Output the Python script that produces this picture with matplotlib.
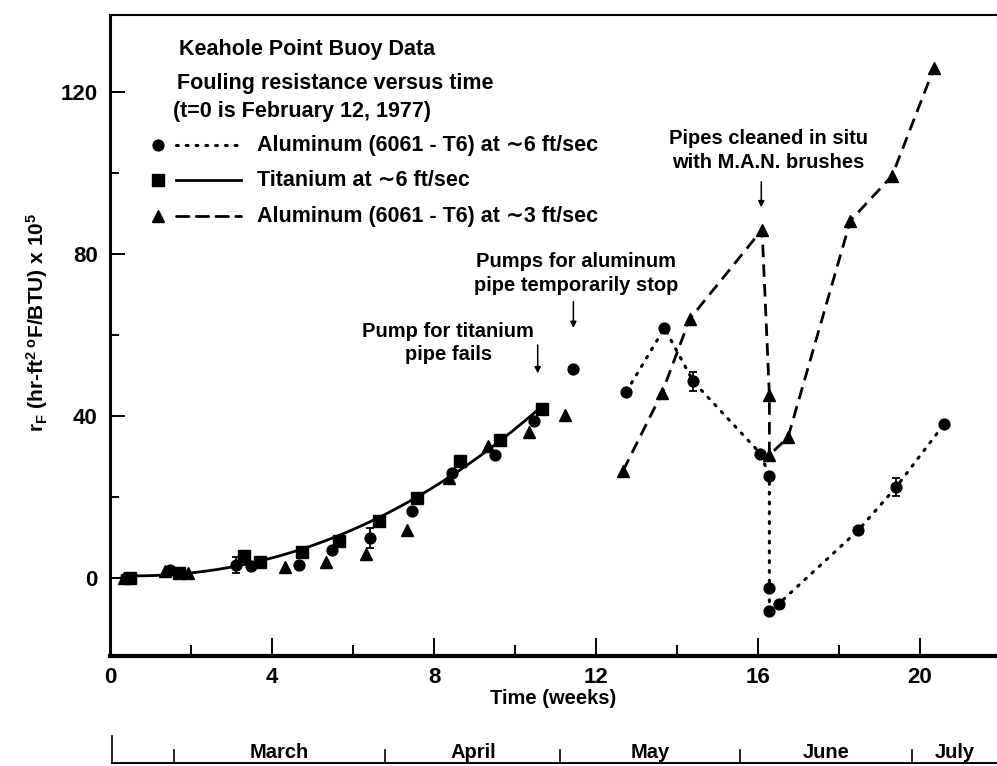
import numpy as np
import matplotlib.pyplot as plt
from matplotlib.lines import Line2D

plt.rcParams['font.family'] = ['Liberation Sans', 'DejaVu Sans']
plt.rcParams['font.weight'] = 'bold'
plt.rcParams['axes.labelweight'] = 'bold'
plt.rcParams['mathtext.fontset'] = 'custom'
plt.rcParams['mathtext.rm'] = 'Liberation Sans:bold'
plt.rcParams['mathtext.it'] = 'Liberation Sans:bold'

# ---- data (weeks since Feb 12, 1977; r_F x 1e5) ----
# titanium, ~6 ft/sec
ti_t = [0.5, 1.7, 3.3, 3.7, 4.73, 5.65, 6.64, 7.58, 8.65, 9.64, 10.67]
ti_r = [0.0, 1.1, 5.3, 4.0, 6.3, 9.2, 14.1, 19.8, 28.8, 34.0, 41.7]

# aluminum, ~6 ft/sec (points before week 12 are not joined)
al6_t_early = [0.4, 1.49, 3.10, 3.47, 4.66, 5.49, 6.42, 7.46, 8.45, 9.50, 10.48, 11.43]
al6_r_early = [0.0, 1.9, 3.1, 3.0, 3.2, 6.9, 9.8, 16.4, 25.9, 30.3, 38.8, 51.5]
al6_t_late = [12.75, 13.69, 14.40, 16.06, 16.28, 16.28, 16.28, 16.51, 18.47, 19.41, 20.59]
al6_r_late = [46.0, 61.7, 48.5, 30.7, 25.1, -2.6, -8.2, -6.4, 11.7, 22.4, 37.9]

# error bars on selected aluminum (6 ft/sec) points
err_t = [3.10, 6.42, 14.40, 19.41]
err_r = [3.1, 9.8, 48.5, 22.4]
err_d = [2.0, 2.5, 2.3, 2.3]

# aluminum, ~3 ft/sec
al3_t_early = [0.34, 1.37, 1.92, 4.32, 5.34, 6.33, 7.34, 8.37, 9.34, 10.34, 11.23]
al3_r_early = [0.0, 1.7, 1.2, 2.8, 4.0, 6.0, 11.9, 24.7, 32.5, 35.9, 40.2]
al3_t_late = [12.67, 13.63, 14.31, 16.10, 16.28, 16.28, 16.74, 18.28, 19.31, 20.34]
al3_r_late = [26.5, 45.7, 63.9, 86.0, 45.2, 30.3, 34.7, 88.2, 99.3, 125.8]

# month boundaries along the time axis
month_edges = [0.05, 1.58, 6.80, 11.12, 15.55, 19.81]
month_names = ['', 'March', 'April', 'May', 'June', 'July']

W, H = 997, 766
fig = plt.figure(figsize=(W / 100, H / 100), dpi=100)


def px(x, y):
    return x / W, 1 - y / H


ax = fig.add_axes([110 / W, 1 - 656 / H, (W - 110) / W, (656 - 15) / H])
ax.set_xlim(0, 21.9)
ax.set_ylim(-19.3, 139)

dot_ls = (0, (0.6, 2.6))
dash_ls = (0, (4.5, 2.6))
mk = dict(color='black', markeredgecolor='black')

# titanium: smooth cubic through the squares
coef = np.polyfit(ti_t, ti_r, 3)
tt = np.linspace(0.3, ti_t[-1], 200)
ax.plot(tt, np.polyval(coef, tt), '-', color='black', lw=2.0, zorder=2)
ax.plot(ti_t, ti_r, 's', ms=8.5, **mk, zorder=3)

# aluminum 6 ft/sec
ax.plot(al6_t_early, al6_r_early, 'o', ms=7.8, **mk, zorder=3)
ax.plot(al6_t_late, al6_r_late, color='black', lw=2.2, ls=dot_ls,
        dash_capstyle='round', zorder=2)
ax.plot(al6_t_late, al6_r_late, 'o', ms=7.8, **mk, zorder=3)
ax.errorbar(err_t, err_r, yerr=err_d, fmt='none', ecolor='black',
            elinewidth=1.3, capsize=3, capthick=1.3, zorder=3)

# aluminum 3 ft/sec
ax.plot(al3_t_early, al3_r_early, '^', ms=9, **mk, zorder=3)
ax.plot(al3_t_late, al3_r_late, color='black', lw=2.0, ls=dash_ls, zorder=2)
ax.plot(al3_t_late, al3_r_late, '^', ms=9, **mk, zorder=3)

# axes styling
ax.spines['right'].set_visible(False)
ax.spines['top'].set_linewidth(1.5)
ax.spines['left'].set_linewidth(2.2)
ax.spines['bottom'].set_linewidth(3.0)
ax.set_xticks([0, 4, 8, 12, 16, 20])
ax.set_xticks([2, 6, 10, 14, 18], minor=True)
ax.set_yticks([0, 40, 80, 120])
ax.set_yticks([20, 60, 100], minor=True)
ax.tick_params(axis='both', which='both', direction='in', width=1.4,
               labelsize=16)
ax.tick_params(axis='x', which='major', length=13, pad=8)
ax.tick_params(axis='x', which='minor', length=8)
ax.tick_params(axis='y', which='major', length=11, pad=9)
ax.tick_params(axis='y', which='minor', length=6.5)

ax.set_xlabel('Time (weeks)', fontsize=14.5, labelpad=1)
fig.text(*px(37, 322),
         r'r$_\mathregular{F}$ (hr-ft$^\mathregular{2\ o}$F/BTU) x 10$^\mathregular{5}$',
         rotation=90, ha='center', va='center', fontsize=15)

# legend block
fs = 15.5
fig.text(*px(179, 50), 'Keahole Point Buoy Data', fontsize=fs, va='center')
fig.text(*px(177, 83), 'Fouling resistance versus time', fontsize=fs, va='center')
fig.text(*px(173, 111), '(t=0 is February 12, 1977)', fontsize=fs, va='center')

keys = [
    ('o', 7.8, dot_ls, 2.2, 145, 'Aluminum (6061 - T6) at \u223c6 ft/sec'),
    ('s', 8.5, '-', 2.0, 180, 'Titanium at \u223c6 ft/sec'),
    ('^', 9, dash_ls, 2.0, 216, 'Aluminum (6061 - T6) at \u223c3 ft/sec'),
]
for marker, ms, ls, lw, yy, label in keys:
    mx, my = px(158, yy)
    fig.add_artist(Line2D([mx], [my], marker=marker, ms=ms, color='black',
                          transform=fig.transFigure))
    x0, y0 = px(176, yy)
    x1, _ = px(241, yy)
    fig.add_artist(Line2D([x0, x1], [y0, y0], ls=ls, lw=lw, color='black',
                          dash_capstyle='round', transform=fig.transFigure))
    fig.text(*px(257, yy), label, fontsize=fs, va='center')

# event notes
nfs = 14.5
arrow = dict(arrowstyle='-|>', color='black', lw=1.1, mutation_scale=9,
             shrinkA=0, shrinkB=0)
ax.text(8.35, 58, 'Pump for titanium\npipe fails', fontsize=nfs,
        ha='center', va='center', linespacing=1.3)
ax.annotate('', xy=(10.56, 50.5), xytext=(10.56, 57.5), arrowprops=arrow)

ax.text(11.5, 75.2, 'Pumps for aluminum\npipe temporarily stop', fontsize=nfs,
        ha='center', va='center', linespacing=1.3)
ax.annotate('', xy=(11.44, 61.7), xytext=(11.44, 68.2), arrowprops=arrow)

ax.text(16.25, 105.5, 'Pipes cleaned in situ\nwith M.A.N. brushes', fontsize=nfs,
        ha='center', va='center', linespacing=1.3)
ax.annotate('', xy=(16.08, 91.5), xytext=(16.08, 97.8), arrowprops=arrow)

# month strip under the time axis
mx_ax = fig.add_axes([110 / W, 0, (W - 110) / W, 40 / H])
mx_ax.set_xlim(ax.get_xlim())
mx_ax.set_ylim(0, 1)
mx_ax.axis('off')
right = ax.get_xlim()[1]
mx_ax.plot([month_edges[0], right], [0.075, 0.075], color='black', lw=1.4)
for i, edge in enumerate(month_edges):
    top = 0.75 if i == 0 else 0.4
    mx_ax.plot([edge, edge], [0.075, top], color='black', lw=1.2)
bounds = month_edges + [right]
for i, name in enumerate(month_names):
    if name:
        mx_ax.text((bounds[i] + bounds[i + 1]) / 2, 0.33, name, fontsize=14.5,
                   ha='center', va='center')

fig.savefig('out.png', dpi=100)
